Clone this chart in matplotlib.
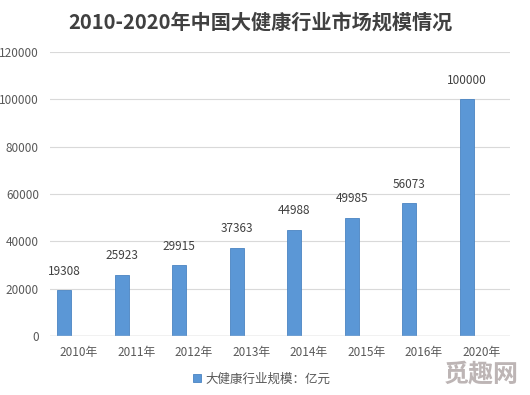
import matplotlib
matplotlib.use("Agg")
import matplotlib.pyplot as plt
import numpy as np

plt.rcParams['font.family'] = ['Noto Sans CJK SC', 'DejaVu Sans']

title = "2010-2020年中国大健康行业市场规模情况"
categories = ["2010年", "2011年", "2012年", "2013年", "2014年", "2015年", "2016年", "2020年"]
values = [19308, 25923, 29915, 37363, 44988, 49985, 56073, 100000]
series_name = "大健康行业规模：亿元"
yticks = [0, 20000, 40000, 60000, 80000, 100000, 120000]
watermark = "觅趣网"

fig = plt.figure(figsize=(5.3, 3.95), dpi=100)
ax = fig.add_axes([50/530, 59/395, 460/530, 284/395])

x = np.arange(len(categories))
bars = ax.bar(x - 0.25, values, width=0.24, color='#5b97d6', edgecolor='#4a84c2',
              linewidth=0.6, zorder=3, label=series_name)

for xi, v in zip(x, values):
    ax.annotate(f"{v}", (xi - 0.25, v), xytext=(0, 9), textcoords='offset points',
                ha='center', va='bottom', fontsize=8.5, color='#404040')

ax.set_xlim(-0.5, len(categories) - 0.5)
ax.set_ylim(0, 120000)
ax.set_yticks(yticks)
ax.set_yticklabels([str(t) for t in yticks])
ax.set_xticks(x)
ax.set_xticklabels(categories)
ax.tick_params(axis='both', length=0, labelsize=8.5, labelcolor='#595959')
ax.tick_params(axis='x', pad=7)
ax.tick_params(axis='y', pad=8)
ax.grid(axis='y', color='#d9d9d9', linewidth=0.8, zorder=0)
for s in ax.spines.values():
    s.set_visible(False)
ax.axhline(0, color='#c8c8c8', linewidth=1.0, zorder=4)

fig.text(0.492, 1 - 22/395, title, ha='center', va='center', fontsize=14.5,
         fontweight='bold', color='#404040')

leg = fig.legend(handles=[bars], labels=[series_name], loc='center',
                 bbox_to_anchor=(262/530, 1 - 379/395), frameon=False,
                 fontsize=9, handlelength=0.6, handleheight=0.6, handletextpad=0.4)
for t in leg.get_texts():
    t.set_color('#595959')

fig.text(481/530, 1 - 374/395, watermark, ha='center', va='center', fontsize=18,
         fontweight='bold', color='#bdb5b5')

fig.savefig("out.png", dpi=100)
